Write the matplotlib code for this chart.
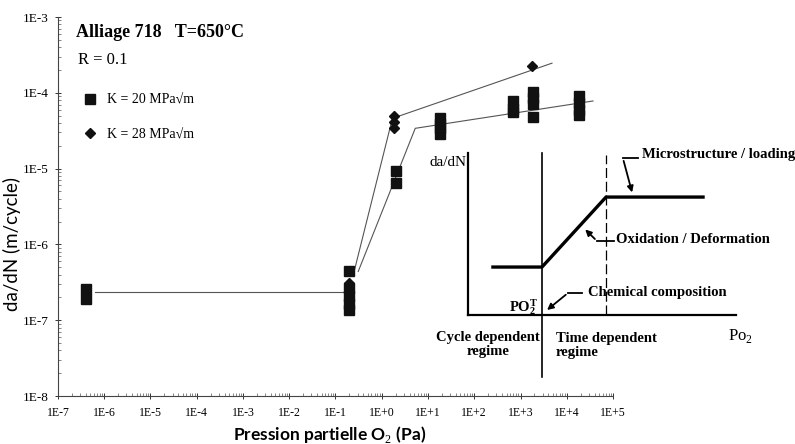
import numpy as np
import matplotlib
matplotlib.use('Agg')
from matplotlib import pyplot as plt
from matplotlib.ticker import FixedLocator, FuncFormatter, LogLocator, NullFormatter

plt.rcParams['font.family'] = ['Liberation Serif', 'DejaVu Serif']
plt.rcParams['mathtext.fontset'] = 'custom'
plt.rcParams['mathtext.rm'] = 'Liberation Serif'
plt.rcParams['mathtext.bf'] = 'Liberation Serif:bold'

# measured crack growth rates, da/dN (m/cycle) vs O2 partial pressure (Pa)
k20_p = [4e-7, 4e-7, 0.2, 0.2, 0.2, 0.2, 0.2, 2, 2,
         18, 18, 18, 18, 700, 700, 700, 1850, 1850, 1850, 1850,
         1.8e4, 1.8e4, 1.8e4, 1.8e4]
k20_dadn = [2.6e-7, 1.9e-7, 4.5e-7, 2.7e-7, 2.1e-7, 1.65e-7, 1.35e-7, 9.3e-6, 6.5e-6,
            4.7e-5, 3.9e-5, 3.4e-5, 2.9e-5, 7.8e-5, 6.2e-5, 5.5e-5, 1.02e-4, 8.5e-5, 7.1e-5, 4.8e-5,
            9.1e-5, 7.3e-5, 5.9e-5, 5.1e-5]
k28_p = [0.2, 1.8, 1.8, 1.8, 1800]
k28_dadn = [3.1e-7, 4.9e-5, 4.1e-5, 3.4e-5, 2.25e-4]

# trend lines drawn through the data
flat_p = [6.3e-7, 0.145]
flat_dadn = [2.35e-7, 2.35e-7]
k20_fit_p = [0.31, 5.3, 3.7e4]
k20_fit_dadn = [4.4e-7, 3.4e-5, 7.8e-5]
k28_fit_p = [0.26, 1.7, 4800]
k28_fit_dadn = [4.7e-7, 4.6e-5, 2.46e-4]

x_exps = list(range(-7, 6))
y_exps = list(range(-8, -2))

# schematic inset (axes fraction units)
sch_x = [0.093, 0.276, 0.515, 0.877]
sch_y = [0.296, 0.296, 0.728, 0.728]
po2_t = 0.276
sat_x = 0.515

fig = plt.figure(figsize=(7.95, 4.44), dpi=100)
W, H = 795, 444
ax = fig.add_axes([58 / W, 1 - 396 / H, 555 / W, 379 / H])

line_kw = dict(color='#555555', lw=0.8, zorder=2)
ax.plot(flat_p, flat_dadn, **line_kw)
ax.plot(k20_fit_p, k20_fit_dadn, **line_kw)
ax.plot(k28_fit_p, k28_fit_dadn, **line_kw)
ax.plot(k20_p, k20_dadn, 's', color='#111111', ms=6.5, ls='none', zorder=3,
        label='K = 20 MPa√m')
ax.plot(k28_p, k28_dadn, 'D', color='#111111', ms=5.5, ls='none', zorder=4,
        label='K = 28 MPa√m')

ax.set_xscale('log')
ax.set_yscale('log')
ax.set_xlim(1e-7, 1e5)
ax.set_ylim(1e-8, 1e-3)
ax.xaxis.set_major_locator(FixedLocator([10.0 ** e for e in x_exps]))
ax.yaxis.set_major_locator(FixedLocator([10.0 ** e for e in y_exps]))
fmt = FuncFormatter(lambda v, pos: '1E%+d' % int(round(np.log10(v))))
ax.xaxis.set_major_formatter(fmt)
ax.yaxis.set_major_formatter(fmt)
ax.xaxis.set_minor_locator(LogLocator(base=10, subs=np.arange(2, 10), numticks=30))
ax.yaxis.set_minor_locator(LogLocator(base=10, subs=np.arange(2, 10), numticks=30))
ax.xaxis.set_minor_formatter(NullFormatter())
ax.yaxis.set_minor_formatter(NullFormatter())
ax.tick_params(which='major', direction='inout', length=4, width=0.7,
               colors='#333333', labelcolor='black')
ax.tick_params(which='minor', direction='in', length=2, width=0.5, colors='#555555')
ax.tick_params(axis='x', pad=6, labelsize=8.5)
ax.tick_params(axis='y', pad=5, labelsize=9.5)
for s in ['top', 'right']:
    ax.spines[s].set_visible(False)
for s in ['left', 'bottom']:
    ax.spines[s].set_linewidth(0.8)
    ax.spines[s].set_color('#444444')

ax.set_ylabel('da/dN (m/cycle)', family=['Lato', 'DejaVu Sans'], fontsize=13.5)
ax.yaxis.set_label_coords(-0.067, 0.40)
ax.set_xlabel('Pression partielle O$_2$ (Pa)', family=['Lato', 'DejaVu Sans'],
              fontsize=12.5, fontweight='bold')
ax.xaxis.set_label_coords(0.49, -0.074)

ax.text(0.032, 0.958, 'Alliage 718   T=650°C', transform=ax.transAxes, fontsize=13,
        fontweight='bold', va='center')
ax.text(0.036, 0.887, 'R = 0.1', transform=ax.transAxes, fontsize=12, va='center')
ax.legend(loc='upper left', bbox_to_anchor=(0.033, 0.812), frameon=False, fontsize=10,
          labelspacing=1.55, handletextpad=0.6, handlelength=1.2, borderaxespad=0)

# schematic of the regimes
ax_in = fig.add_axes([468 / W, 1 - 315 / H, 268 / W, 162 / H])
ax_in.set_xlim(0, 1)
ax_in.set_ylim(0, 1)
ax_in.patch.set_alpha(0)
ax_in.set_xticks([])
ax_in.set_yticks([])
for s in ['top', 'right']:
    ax_in.spines[s].set_visible(False)
for s in ['left', 'bottom']:
    ax_in.spines[s].set_linewidth(1.6)
ax_in.plot(sch_x, sch_y, color='black', lw=2.4, solid_joinstyle='miter')
ax_in.plot([po2_t, po2_t], [-0.383, 1.0], color='black', lw=1.2, clip_on=False)
ax_in.plot([sat_x, sat_x], [0, 0.99], color='black', lw=0.9, ls=(0, (8, 3)), clip_on=False)

bold = dict(fontsize=10.5, fontweight='bold')
ax_in.text(-0.005, 0.94, 'da/dN', ha='right', va='center', fontsize=11)
ax_in.text(0.649, 0.988, 'Microstructure / loading', va='center', **bold)
ax_in.plot([0.634, 0.578], [0.968, 0.968], color='black', lw=1.3, clip_on=False)
ax_in.annotate('', xy=(0.615, 0.74), xytext=(0.578, 0.968),
               arrowprops=dict(arrowstyle='-|>', color='black', lw=1.3, mutation_scale=9))
ax_in.text(0.552, 0.463, 'Oxidation / Deformation', va='center', **bold)
ax_in.plot([0.545, 0.481], [0.457, 0.457], color='black', lw=1.3, clip_on=False)
ax_in.annotate('', xy=(0.43, 0.54), xytext=(0.481, 0.457),
               arrowprops=dict(arrowstyle='-|>', color='black', lw=1.3, mutation_scale=9))
ax_in.text(0.448, 0.136, 'Chemical composition', va='center', **bold)
ax_in.plot([0.425, 0.373], [0.136, 0.136], color='black', lw=1.3, clip_on=False)
ax_in.annotate('', xy=(0.287, 0.02), xytext=(0.373, 0.136),
               arrowprops=dict(arrowstyle='-|>', color='black', lw=1.3, mutation_scale=9))
ax_in.text(0.262, 0.05, r'$\mathbf{PO_2^T}$', ha='right', va='center', fontsize=10.5)
ax_in.text(0.075, -0.18, 'Cycle dependent\nregime', ha='center', va='center',
           multialignment='center', linespacing=1.1, **bold)
ax_in.text(0.328, -0.19, 'Time dependent\nregime', ha='left', va='center',
           linespacing=1.1, **bold)
ax_in.text(0.97, -0.13, r'Po$_2$', ha='left', va='center', fontsize=12)

fig.savefig('out.png', dpi=100)
